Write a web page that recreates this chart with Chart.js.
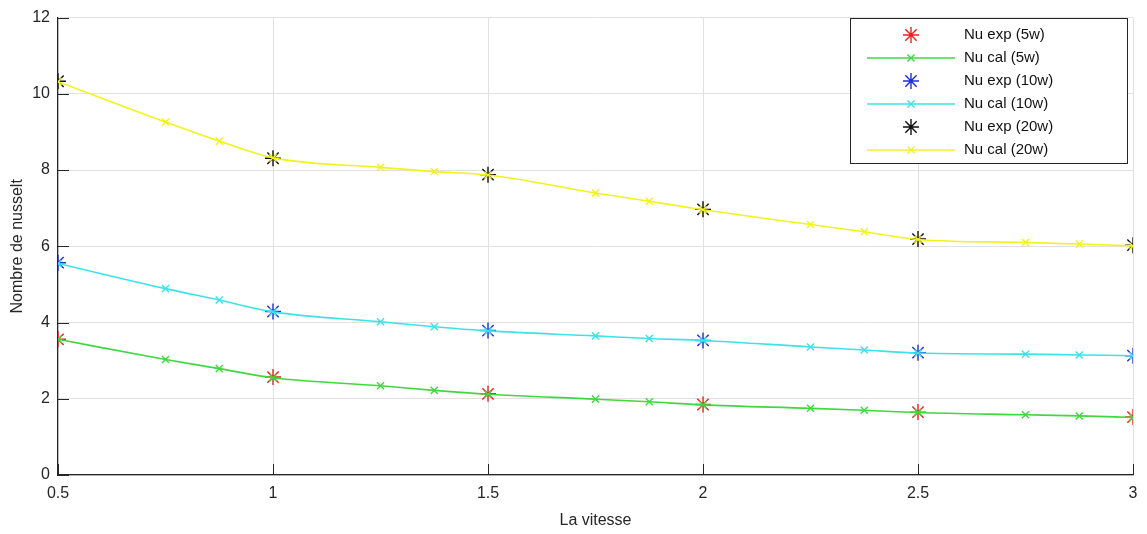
<!DOCTYPE html>
<html>
<head>
<meta charset="utf-8">
<script src="https://cdn.jsdelivr.net/npm/chart.js@4"></script>
<style>
  html, body { margin: 0; padding: 0; background: #fff; }
  #wrap { width: 1147px; height: 534px; position: relative; }
</style>
</head>
<body>
<div id="wrap"><canvas id="nuChart"></canvas></div>
<script>
// vitesse
const xCalc = [0.5, 0.75, 0.875, 1, 1.25, 1.375, 1.5, 1.75, 1.875, 2, 2.25, 2.375, 2.5, 2.75, 2.875, 3];
const xExp = [0.5, 1, 1.5, 2, 2.5, 3];

// Nusselt calculé
const calc5w  = [3.56, 3.03, 2.79, 2.55, 2.34, 2.22, 2.12, 1.99, 1.92, 1.84, 1.75, 1.70, 1.64, 1.58, 1.55, 1.51];
const calc10w = [5.55, 4.89, 4.59, 4.28, 4.02, 3.89, 3.78, 3.65, 3.58, 3.53, 3.36, 3.28, 3.20, 3.17, 3.15, 3.13];
const calc20w = [10.32, 9.26, 8.76, 8.32, 8.07, 7.96, 7.87, 7.40, 7.18, 6.96, 6.57, 6.38, 6.18, 6.10, 6.06, 6.01];

// Nusselt expérimental
const exp5w  = [3.56, 2.57, 2.13, 1.85, 1.65, 1.52];
const exp10w = [5.57, 4.29, 3.79, 3.53, 3.21, 3.13];
const exp20w = [10.33, 8.31, 7.88, 6.97, 6.19, 6.03];

const xTicks = [0.5, 1, 1.5, 2, 2.5, 3];
const yTicks = [0, 2, 4, 6, 8, 10, 12];

function pts(xs, ys) {
  return xs.map((x, i) => ({ x: x, y: ys[i] }));
}

function expSet(label, color, data) {
  return {
    label: label,
    data: pts(xExp, data),
    showLine: false,
    pointStyle: 'star',
    pointRadius: 8,
    pointBorderWidth: 1.4,
    borderColor: color,
    backgroundColor: color,
    order: 2
  };
}

function calcSet(label, color, data) {
  return {
    label: label,
    data: pts(xCalc, data),
    borderColor: color,
    backgroundColor: color,
    borderWidth: 1.6,
    pointStyle: 'crossRot',
    pointRadius: 5,
    pointBorderWidth: 1.4,
    cubicInterpolationMode: 'monotone',
    fill: false,
    order: 1
  };
}

// MATLAB style ticks pointing into the axes
const innerTicks = {
  id: 'innerTicks',
  afterDatasetsDraw(chart) {
    const c = chart.ctx, a = chart.chartArea;
    const xs = chart.scales.x, ys = chart.scales.y;
    c.save();
    c.strokeStyle = '#262626';
    c.lineWidth = 1;
    yTicks.forEach(v => {
      const y = Math.round(ys.getPixelForValue(v)) + 0.5;
      c.beginPath(); c.moveTo(a.left, y); c.lineTo(a.left + 11, y); c.stroke();
    });
    xTicks.forEach(v => {
      const x = Math.round(xs.getPixelForValue(v)) + 0.5;
      c.beginPath(); c.moveTo(x, a.bottom); c.lineTo(x, a.bottom - 11); c.stroke();
    });
    c.restore();
  }
};

// legend box drawn like the MATLAB one
const boxLegend = {
  id: 'boxLegend',
  afterDraw(chart) {
    const c = chart.ctx;
    const bx = 850.5, by = 18.5, bw = 277, bh = 145;
    c.save();
    c.fillStyle = '#fff';
    c.fillRect(bx, by, bw, bh);
    c.strokeStyle = '#262626';
    c.lineWidth = 1;
    c.strokeRect(bx, by, bw, bh);
    c.font = '15px "Liberation Sans", Arial, sans-serif';
    c.textBaseline = 'middle';
    chart.data.datasets.forEach((ds, i) => {
      const y = 35 + i * 23;
      const mx = 911;
      if (ds.showLine !== false) {
        c.strokeStyle = ds.borderColor;
        c.lineWidth = 1.6;
        c.beginPath(); c.moveTo(867, y); c.lineTo(955, y); c.stroke();
      }
      c.strokeStyle = ds.borderColor;
      c.fillStyle = ds.borderColor;
      c.lineWidth = ds.pointBorderWidth;
      Chart.helpers.drawPoint(c, {
        pointStyle: ds.pointStyle,
        radius: ds.pointRadius,
        borderWidth: ds.pointBorderWidth
      }, mx, y);
      c.fillStyle = '#111';
      c.fillText(ds.label, 964, y);
    });
    c.restore();
  }
};

const ctx = document.getElementById('nuChart').getContext('2d');
new Chart(ctx, {
  type: 'line',
  data: {
    datasets: [
      expSet('Nu exp (5w)', '#e8221e', exp5w),
      calcSet('Nu cal (5w)', '#3fd83f', calc5w),
      expSet('Nu exp (10w)', '#1f2fd6', exp10w),
      calcSet('Nu cal (10w)', '#3be3e8', calc10w),
      expSet('Nu exp (20w)', '#111111', exp20w),
      calcSet('Nu cal (20w)', '#f2f21c', calc20w)
    ]
  },
  options: {
    responsive: true,
    maintainAspectRatio: false,
    animation: false,
    layout: { padding: { top: 12, right: 14, left: 0, bottom: 0 } },
    plugins: {
      legend: { display: false },
      tooltip: { enabled: false }
    },
    scales: {
      x: {
        type: 'linear',
        min: 0.5,
        max: 3,
        afterBuildTicks: s => { s.ticks = xTicks.map(v => ({ value: v })); },
        afterFit: s => { s.height = 59; },
        ticks: {
          padding: 9,
          color: '#262626',
          font: { size: 16, family: '"Liberation Sans", Arial, sans-serif' },
          callback: v => String(v)
        },
        grid: { color: '#e1e1e1', drawTicks: false },
        border: { color: '#262626', width: 1.2 },
        title: {
          display: true,
          text: 'La vitesse',
          color: '#262626',
          padding: { top: 4 },
          font: { size: 16, family: '"Liberation Sans", Arial, sans-serif' }
        }
      },
      y: {
        min: 0,
        max: 12,
        afterBuildTicks: s => { s.ticks = yTicks.map(v => ({ value: v })); },
        afterFit: s => { s.width = 58; },
        ticks: {
          padding: 8,
          color: '#262626',
          font: { size: 16, family: '"Liberation Sans", Arial, sans-serif' }
        },
        grid: { color: '#e1e1e1', drawTicks: false },
        border: { color: '#262626', width: 1.2 },
        title: {
          display: true,
          text: 'Nombre de nusselt',
          color: '#262626',
          padding: { top: 8, bottom: 4 },
          font: { size: 16, family: '"Liberation Sans", Arial, sans-serif' }
        }
      }
    }
  },
  plugins: [innerTicks, boxLegend]
});
</script>
</body>
</html>
